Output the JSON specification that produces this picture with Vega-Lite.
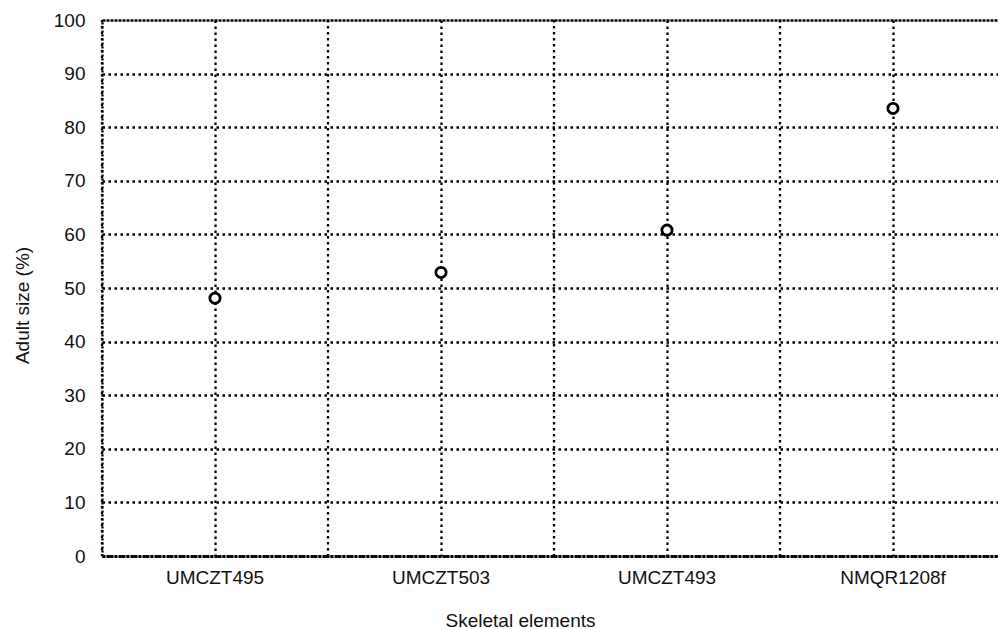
{
  "$schema": "https://vega.github.io/schema/vega-lite/v6.json",
  "autosize": {"type": "none"},
  "padding": {"left": 102, "top": 20, "right": 0, "bottom": 73},
  "width": 896,
  "height": 536,
  "background": "white",
  "config": {
    "view": {"stroke": null},
    "font": "Liberation Sans",
    "axis": {"labelColor": "#111", "titleColor": "#111", "labelFont": "Liberation Sans", "titleFont": "Liberation Sans"}
  },
  "data": {
    "values": [
      {"element": "UMCZT495", "size": 48.1},
      {"element": "UMCZT503", "size": 52.9},
      {"element": "UMCZT493", "size": 60.8},
      {"element": "NMQR1208f", "size": 83.5}
    ]
  },
  "layer": [
    {
      "mark": {"type": "rule", "stroke": "#000", "strokeWidth": 2.3, "strokeDash": [2.5, 3.5]},
      "encoding": {
        "x": {
          "field": "element",
          "type": "nominal",
          "sort": null,
          "bandPosition": 0,
          "scale": {"type": "band", "paddingInner": 0, "paddingOuter": 0, "range": [0, 904]},
          "axis": {
            "title": "Skeletal elements",
            "labelFontSize": 19,
            "labelPadding": 12,
            "labelAngle": 0,
            "ticks": false,
            "grid": true,
            "bandPosition": 0.5,
            "gridColor": "#000",
            "gridDash": [2.5, 3.5],
            "gridWidth": 2.3,
            "domainColor": "#000",
            "domainWidth": 2.8,
            "domainDash": [3, 1],
            "titleFontSize": 19,
            "titleFontWeight": "normal",
            "titleX": 418,
            "titleY": 64,
            "titleAlign": "center",
            "titleBaseline": "middle"
          }
        }
      }
    },
    {
      "mark": {"type": "point", "shape": "circle", "filled": true, "fill": "white", "stroke": "#000", "strokeWidth": 2.8, "size": 105, "opacity": 1},
      "encoding": {
        "x": {"field": "element", "type": "nominal", "sort": null, "bandPosition": 0.5},
        "y": {
          "field": "size",
          "type": "quantitative",
          "scale": {"domain": [0, 100], "nice": false, "zero": true},
          "axis": {
            "title": "Adult size (%)",
            "values": [0, 10, 20, 30, 40, 50, 60, 70, 80, 90, 100],
            "labelFontSize": 19,
            "labelPadding": 17,
            "ticks": false,
            "grid": true,
            "gridColor": "#000",
            "gridWidth": 2.3,
            "gridDash": {"condition": {"test": "datum.value === 100", "value": [3, 1]}, "value": [2.5, 3.5]},
            "domainColor": "#000",
            "domainWidth": 2.3,
            "domainDash": [2, 2],
            "titleFontSize": 19,
            "titleFontWeight": "normal",
            "titleX": -80,
            "titleY": 285,
            "titleAngle": -90,
            "titleAlign": "center",
            "titleBaseline": "middle"
          }
        }
      }
    }
  ]
}
